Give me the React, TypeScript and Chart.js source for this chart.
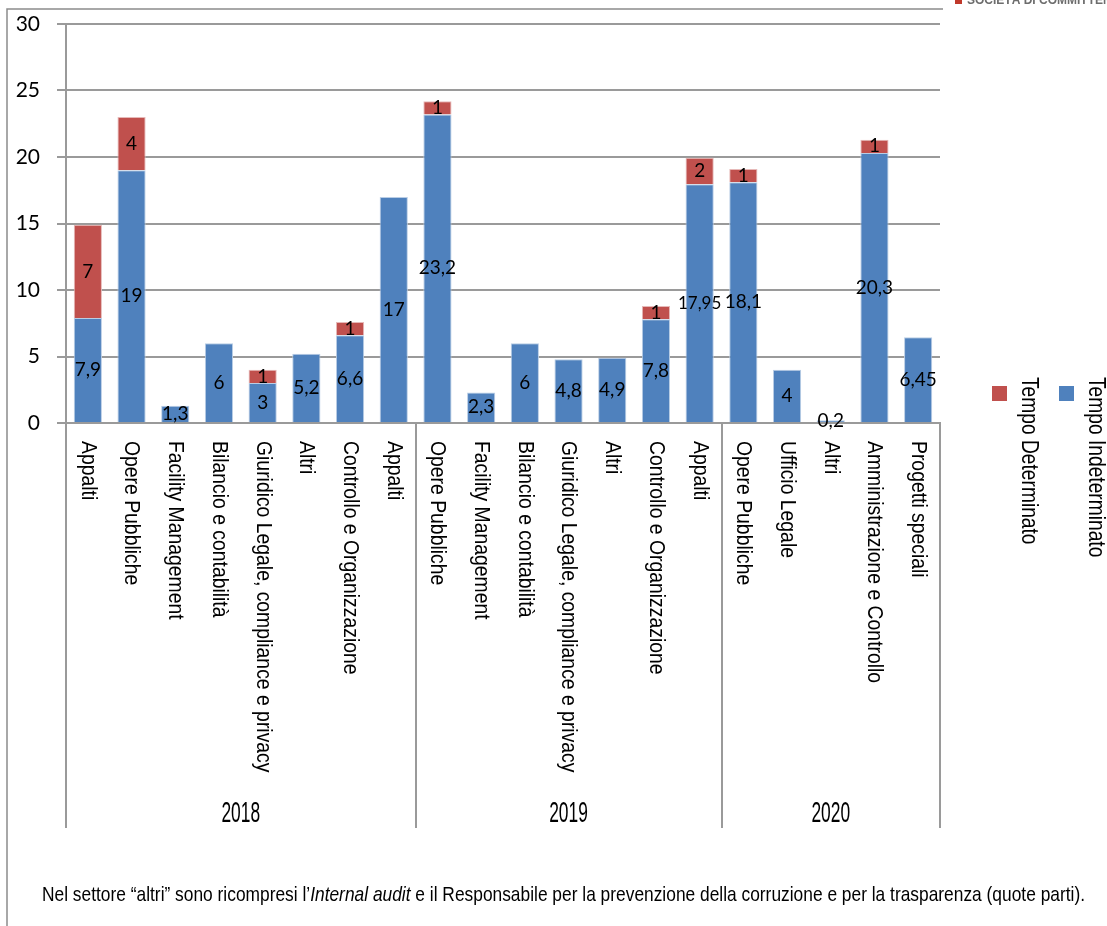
import React, { useEffect, useRef } from "react";
import { Chart, registerables } from "chart.js";

Chart.register(...registerables);

const categories = [
  "Appalti", "Opere Pubbliche", "Facility Management", "Bilancio e contabilità",
  "Giuridico Legale, compliance e privacy", "Altri", "Controllo e Organizzazione", "Appalti",
  "Opere Pubbliche", "Facility Management", "Bilancio e contabilità",
  "Giuridico Legale, compliance e privacy", "Altri", "Controllo e Organizzazione", "Appalti",
  "Opere Pubbliche", "Ufficio Legale", "Altri", "Amministrazione e Controllo", "Progetti speciali",
];
const tempoIndeterminato = [7.9, 19, 1.3, 6, 3, 5.2, 6.6, 17, 23.2, 2.3, 6, 4.8, 4.9, 7.8, 17.95, 18.1, 4, 0.2, 20.3, 6.45];
const tempoDeterminato = [7, 4, null, null, 1, null, 1, null, 1, null, null, null, null, 1, 2, 1, null, null, 1, null];
const groupLabels = ["2018", "2019", "2020"];
const groupSizes = [8, 7, 5];
const seriesNames = ["Tempo Indeterminato", "Tempo Determinato"];
const yTicks = { min: 0, max: 30, step: 5 };
const footerParts = [
  { text: "Nel settore \u201Caltri\u201D sono ricompresi l\u2019", italic: false },
  { text: "Internal audit", italic: true },
  { text: " e il Responsabile per la prevenzione della corruzione e per la trasparenza (quote parti).", italic: false },
];

const BLUE = "#4F81BD";
const RED = "#C0504D";
const GRID = "#9a9a9a";
const COND = "'Liberation Sans', Arial, sans-serif";

function condText(ctx, text, x, y, rot, font, sx, align = "left", baseline = "middle") {
  ctx.save();
  ctx.translate(x, y);
  ctx.rotate(rot);
  ctx.scale(sx, 1);
  ctx.font = font;
  ctx.textAlign = align;
  ctx.textBaseline = baseline;
  ctx.fillText(text, 0, 0);
  ctx.restore();
}

const overlayPlugin = {
  id: "overlay",
  afterDatasetsDraw(chart) {
    const ctx = chart.ctx;
    ctx.save();
    ctx.fillStyle = "#000";
    chart.data.datasets.forEach((ds, di) => {
      const meta = chart.getDatasetMeta(di);
      meta.data.forEach((el, i) => {
        const v = ds.data[i];
        if (v === null || v === undefined) return;
        const s = String(v).replace(".", ",");
        ctx.font = (s.length >= 5 ? "17px" : "19px") + " Lato, 'Open Sans', sans-serif";
        ctx.textAlign = "center";
        ctx.textBaseline = "middle";
        const yy = (el.y + el.base) / 2;
        ctx.fillText(s, el.x, yy);
      });
    });
    ctx.restore();
  },
  afterDraw(chart) {
    const ctx = chart.ctx;
    const xs = chart.scales.x;
    const area = chart.chartArea;
    const bottomY = 828;
    ctx.save();
    ctx.fillStyle = "#000";
    // category labels
    categories.forEach((c, i) => {
      const x = xs.getPixelForValue(i);
      condText(ctx, c, x, area.bottom + 18, Math.PI / 2, `22px ${COND}`, 0.88, "left", "middle");
    });
    // group separators & labels
    ctx.strokeStyle = GRID;
    ctx.lineWidth = 2;
    let start = 0;
    const bounds = [];
    groupSizes.forEach((n) => {
      bounds.push([start, start + n]);
      start += n;
    });
    const px = (idx) => (idx <= 0 ? xs.left : idx >= categories.length ? xs.right : (xs.getPixelForValue(idx - 1) + xs.getPixelForValue(idx)) / 2);
    const lines = new Set();
    bounds.forEach(([a, b]) => { lines.add(a); lines.add(b); });
    lines.forEach((idx) => {
      const x = Math.round(px(idx));
      ctx.beginPath();
      ctx.moveTo(x, area.bottom);
      ctx.lineTo(x, bottomY);
      ctx.stroke();
    });
    bounds.forEach(([a, b], gi) => {
      const cx = (px(a) + px(b)) / 2;
      condText(ctx, groupLabels[gi], cx, 822, 0, `30px ${COND}`, 0.58, "center", "alphabetic");
    });
    // legend (rotated)
    const legendItems = [
      { name: seriesNames[0], color: BLUE, sq: 1059, tx: 1096 },
      { name: seriesNames[1], color: RED, sq: 992, tx: 1029 },
    ];
    legendItems.forEach((it) => {
      ctx.fillStyle = it.color;
      ctx.fillRect(it.sq, 386, 15, 15);
      ctx.fillStyle = "#000";
      condText(ctx, it.name, it.tx, 377, Math.PI / 2, `24px ${COND}`, 0.8, "left", "middle");
    });
    // footer
    const fsize = 21;
    const normal = `${fsize}px ${COND}`;
    const ital = `italic ${fsize}px ${COND}`;
    let total = 0;
    footerParts.forEach((p) => {
      ctx.font = p.italic ? ital : normal;
      total += ctx.measureText(p.text).width;
    });
    const fx0 = 42, fx1 = 1085;
    const sx = (fx1 - fx0) / total;
    ctx.save();
    ctx.translate(fx0, 901);
    ctx.scale(sx, 1);
    ctx.textAlign = "left";
    ctx.textBaseline = "alphabetic";
    let cur = 0;
    footerParts.forEach((p) => {
      ctx.font = p.italic ? ital : normal;
      ctx.fillText(p.text, cur, 0);
      cur += ctx.measureText(p.text).width;
    });
    ctx.restore();
    // frame
    ctx.strokeStyle = "#8c8c8c";
    ctx.lineWidth = 1.5;
    ctx.beginPath();
    ctx.moveTo(7, 926);
    ctx.lineTo(7, 9);
    ctx.lineTo(943, 9);
    ctx.stroke();
    // logo fragment
    ctx.fillStyle = "#c0392b";
    ctx.fillRect(955, 0, 7, 4);
    ctx.fillStyle = "#6d6d6d";
    ctx.font = `bold 12px ${COND}`;
    ctx.textAlign = "left";
    ctx.textBaseline = "alphabetic";
    ctx.fillText("SOCIETÀ DI COMMITTENZA", 967, 4);
    ctx.restore();
  },
};

export default function App() {
  const ref = useRef(null);
  useEffect(() => {
    const chart = new Chart(ref.current, {
      type: "bar",
      data: {
        labels: categories,
        datasets: [
          {
            label: seriesNames[0],
            data: tempoIndeterminato,
            backgroundColor: BLUE,
            borderColor: "#b9cde5",
            borderWidth: 1,
            barPercentage: 0.645,
            categoryPercentage: 1,
          },
          {
            label: seriesNames[1],
            data: tempoDeterminato,
            backgroundColor: RED,
            borderColor: "#e6b9b8",
            borderWidth: 1,
            barPercentage: 0.645,
            categoryPercentage: 1,
          },
        ],
      },
      options: {
        responsive: false,
        animation: false,
        layout: { padding: { left: 0, top: 24, right: 167, bottom: 98 } },
        plugins: { legend: { display: false }, tooltip: { enabled: false } },
        scales: {
          x: {
            stacked: true,
            grid: { display: false },
            border: { display: true, color: GRID, width: 2 },
            ticks: { display: false },
            afterFit: (s) => { s.height = 405; s.paddingLeft = 0; s.paddingRight = 0; },
          },
          y: {
            stacked: true,
            min: yTicks.min,
            max: yTicks.max,
            ticks: {
              stepSize: yTicks.step,
              padding: 17,
              color: "#000",
              font: { family: "Lato, 'Open Sans', sans-serif", size: 21 },
            },
            grid: { color: GRID, lineWidth: 2, tickLength: 9, drawTicks: true },
            border: { display: true, color: GRID, width: 2 },
            afterFit: (s) => { s.width = 66; s.paddingTop = 0; s.paddingBottom = 0; },
          },
        },
      },
      plugins: [overlayPlugin],
    });
    return () => chart.destroy();
  }, []);
  return (
    <div style={{ position: "absolute", left: 0, top: 0, width: 1107, height: 926, background: "#fff" }}>
      <canvas ref={ref} width={1107} height={926} />
    </div>
  );
}
